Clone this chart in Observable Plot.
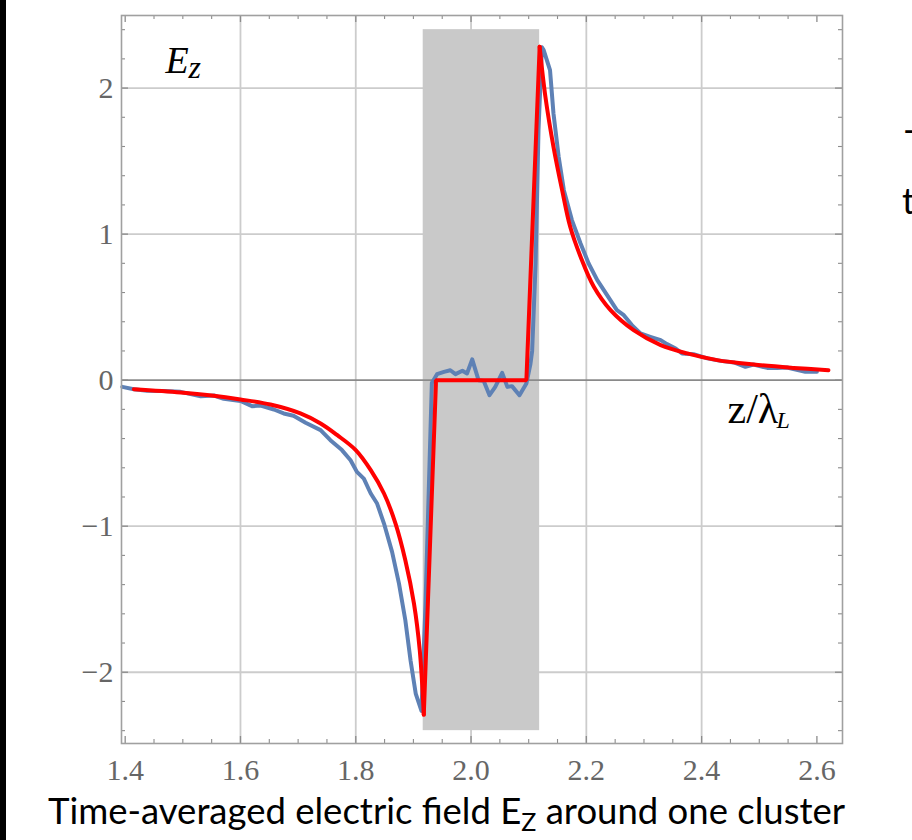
<!DOCTYPE html>
<html>
<head>
<meta charset="utf-8">
<script src="https://cdn.jsdelivr.net/npm/d3@7"></script>
<script src="https://cdn.jsdelivr.net/npm/@observablehq/plot@0.6"></script>
<style>
  body { margin: 0; background: #fff; }
  #wrap { position: relative; width: 912px; height: 840px; overflow: hidden; background: #fff; }
  #chart { position: absolute; left: 0; top: 0; }
  #bar { position: absolute; left: 0; top: 0; width: 6px; height: 840px; background: #000; }
  #overlay { position: absolute; left: 0; top: 0; pointer-events: none; }
</style>
</head>
<body>
<div id="wrap">
  <div id="chart"></div>
  <div id="bar"></div>
  <svg id="overlay" width="912" height="840">
    <text id="caption" x="48" y="824" font-family="Lato, 'Open Sans', sans-serif" font-size="36.5" fill="#000">Time-averaged electric field E<tspan font-size="25" dy="7">Z</tspan><tspan dy="-7"> around one cluster</tspan></text>
    <text x="903" y="143" font-family="Lato, sans-serif" font-size="36" fill="#000">-</text>
    <text x="902" y="214" font-family="Lato, sans-serif" font-size="36" fill="#000">t</text>
  </svg>
</div>
<script>
// Simulation (blue) : E_z versus z/λ_L
const blueX = [1.395,1.415,1.438,1.467,1.496,1.531,1.554,1.571,1.600,1.620,1.635,1.658,1.675,1.692,1.713,1.739,1.756,1.776,1.791,1.802,1.814,1.826,1.837,1.849,1.863,1.875,1.886,1.895,1.904,1.914,1.921,1.932,1.941,1.953,1.964,1.973,1.985,1.993,2.002,2.013,2.022,2.032,2.042,2.054,2.063,2.071,2.084,2.096,2.103,2.106,2.112,2.117,2.123,2.126,2.137,2.143,2.152,2.161,2.175,2.190,2.204,2.219,2.236,2.253,2.265,2.279,2.294,2.311,2.329,2.340,2.355,2.366,2.386,2.410,2.433,2.456,2.476,2.490,2.514,2.531,2.548,2.563,2.580,2.600];
const blueY = [-0.046,-0.062,-0.073,-0.075,-0.080,-0.110,-0.105,-0.128,-0.142,-0.178,-0.174,-0.201,-0.228,-0.244,-0.292,-0.342,-0.411,-0.479,-0.548,-0.628,-0.674,-0.776,-0.845,-0.982,-1.176,-1.393,-1.644,-1.918,-2.146,-2.265,-1.530,-0.020,0.041,0.057,0.068,0.041,0.064,0.046,0.142,0.000,-0.005,-0.103,-0.046,0.050,-0.046,-0.041,-0.103,-0.023,0.110,0.200,0.800,1.710,2.279,2.260,2.123,1.826,1.530,1.301,1.096,0.936,0.799,0.685,0.582,0.479,0.445,0.377,0.320,0.297,0.274,0.247,0.217,0.183,0.178,0.149,0.132,0.121,0.091,0.107,0.084,0.084,0.087,0.073,0.057,0.057];

// Model (red): left tail, jumps + plateau inside the cluster, right tail
const redLeftX  = [1.415,1.496,1.550,1.600,1.652,1.704,1.739,1.768,1.800,1.826,1.849,1.869,1.886,1.901,1.911,1.918];
const redLeftY  = [-0.062,-0.084,-0.105,-0.132,-0.167,-0.228,-0.297,-0.377,-0.479,-0.616,-0.776,-0.982,-1.233,-1.530,-1.849,-2.290];
const redMidX   = [1.918,1.939,1.939,2.096,2.119];
const redMidY   = [-2.290,-0.030,0.000,0.000,2.283];
const redRightX = [2.119,2.129,2.143,2.158,2.172,2.190,2.213,2.242,2.282,2.329,2.375,2.427,2.490,2.560,2.620];
const redRightY = [2.283,1.940,1.598,1.301,1.050,0.845,0.639,0.479,0.342,0.240,0.183,0.137,0.107,0.084,0.068];

// Cluster region (shaded)
const clusterZ = [1.917, 2.119];
const clusterE = [-2.4, 2.4];

// Axes
const xDomain = [1.3936, 2.6444];
const yDomain = [-2.488, 2.497];
const xTicks = [1.4, 1.6, 1.8, 2.0, 2.2, 2.4, 2.6];
const xGrid = [1.6, 1.8, 2.0, 2.2, 2.4];
const xMinor = [1.45,1.5,1.55,1.65,1.7,1.75,1.85,1.9,1.95,2.05,2.1,2.15,2.25,2.3,2.35,2.45,2.5,2.55];
const yTicks = [-2, -1, 0, 1, 2];
const yGrid = [-2, -1, 1, 2];
const yMinor = [-2.4,-2.2,-1.8,-1.6,-1.4,-1.2,-0.8,-0.6,-0.4,-0.2,0.2,0.4,0.6,0.8,1.2,1.4,1.6,1.8,2.2,2.4];

const pts = (xs, ys) => xs.map((x, i) => ({x, y: ys[i]}));
const blue = pts(blueX, blueY);
const redLeft = pts(redLeftX, redLeftY);
const redMid = pts(redMidX, redMidY);
const redRight = pts(redRightX, redRightY);

const W = 912, H = 790, mL = 121, mR = 70, mT = 15, mB = 47;
const iw = W - mL - mR, ih = H - mT - mB;
const tickCol = "#8c8c8c";
const serif = "'Liberation Serif', 'DejaVu Serif', serif";
const lw = 4;

const chart = Plot.plot({
  width: W, height: H,
  marginLeft: mL, marginRight: mR, marginTop: mT, marginBottom: mB,
  style: { fontFamily: serif, fontSize: "30px", background: "#fff", overflow: "visible" },
  x: { domain: xDomain },
  y: { domain: yDomain },
  marks: [
    Plot.gridX(xGrid, { stroke: "#cccccc", strokeOpacity: 1, strokeWidth: 1.8 }),
    Plot.gridY(yGrid, { stroke: "#cccccc", strokeOpacity: 1, strokeWidth: 1.8 }),
    Plot.rect([0], { x1: () => clusterZ[0], x2: () => clusterZ[1], y1: () => clusterE[0], y2: () => clusterE[1], fill: "#c9c9c9" }),
    Plot.ruleY([0], { stroke: "#8a8a8a", strokeWidth: 1.8 }),
    Plot.line(blue, { x: "x", y: "y", stroke: "#5e81b5", strokeWidth: lw, strokeLinejoin: "round" }),
    Plot.line(redLeft, { x: "x", y: "y", stroke: "#ff0000", strokeWidth: lw, curve: "catmull-rom" }),
    Plot.line(redMid, { x: "x", y: "y", stroke: "#ff0000", strokeWidth: lw, strokeLinejoin: "miter" }),
    Plot.line(redRight, { x: "x", y: "y", stroke: "#ff0000", strokeWidth: lw, curve: "catmull-rom" }),
    // inward ticks, all four sides
    Plot.tickX(xTicks, { x: d => d, stroke: tickCol, strokeWidth: 1.3, insetTop: ih - 7 }),
    Plot.tickX(xMinor, { x: d => d, stroke: tickCol, strokeWidth: 1.1, insetTop: ih - 4 }),
    Plot.tickX(xTicks, { x: d => d, stroke: tickCol, strokeWidth: 1.3, insetBottom: ih - 7 }),
    Plot.tickX(xMinor, { x: d => d, stroke: tickCol, strokeWidth: 1.1, insetBottom: ih - 4 }),
    Plot.tickY(yTicks, { y: d => d, stroke: tickCol, strokeWidth: 1.3, insetRight: iw - 7 }),
    Plot.tickY(yMinor, { y: d => d, stroke: tickCol, strokeWidth: 1.1, insetRight: iw - 4 }),
    Plot.tickY(yTicks, { y: d => d, stroke: tickCol, strokeWidth: 1.3, insetLeft: iw - 7 }),
    Plot.tickY(yMinor, { y: d => d, stroke: tickCol, strokeWidth: 1.1, insetLeft: iw - 4 }),
    Plot.frame({ stroke: "#a0a0a0", strokeWidth: 1.6 }),
    Plot.axisX({ ticks: xTicks, anchor: "bottom", tickSize: 0, tickPadding: 15, tickFormat: d3.format(".1f"), fill: "#666", fontFamily: serif, label: null }),
    Plot.axisY({ ticks: yTicks, anchor: "left", tickSize: 0, tickPadding: 8, tickFormat: d3.format("d"), fill: "#666", fontFamily: serif, label: null }),
    // axis labels
    Plot.text(["E"], { frameAnchor: "top-left", text: d => d, dx: 44, dy: 57, lineAnchor: "bottom", textAnchor: "start", fontSize: 38, fontStyle: "italic", fontFamily: serif, fill: "#000" }),
    Plot.text(["z"], { frameAnchor: "top-left", text: d => d, dx: 67, dy: 62, lineAnchor: "bottom", textAnchor: "start", fontSize: 32, fontStyle: "italic", fontFamily: serif, fill: "#000" }),
    Plot.text(["z/λ"], { frameAnchor: "top-left", text: d => d, dx: 606, dy: 407, lineAnchor: "bottom", textAnchor: "start", fontSize: 42, fontFamily: serif, fill: "#000" }),
    Plot.text(["L"], { frameAnchor: "top-left", text: d => d, dx: 655, dy: 412, lineAnchor: "bottom", textAnchor: "start", fontSize: 24, fontStyle: "italic", fontFamily: serif, fill: "#000" })
  ]
});
document.getElementById("chart").appendChild(chart);

// stretch caption to its width in the reference
const cap = document.getElementById("caption");
cap.setAttribute("textLength", 797);
cap.setAttribute("lengthAdjust", "spacingAndGlyphs");
</script>
</body>
</html>
